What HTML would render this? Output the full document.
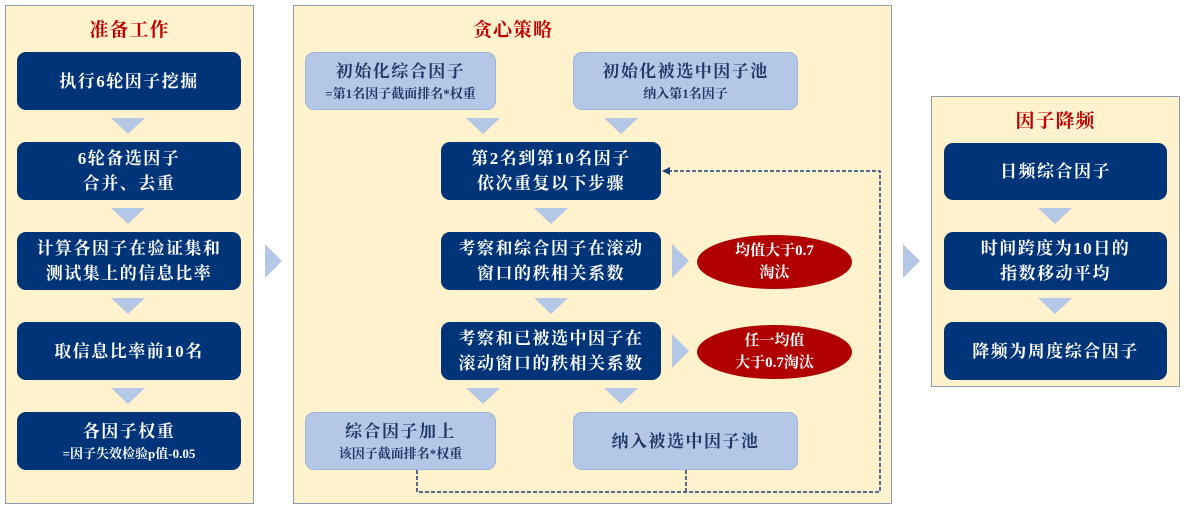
<!DOCTYPE html>
<html><head><meta charset="utf-8"><style>
body{margin:0;width:1185px;height:507px;background:#fff;position:relative;overflow:hidden;font-family:"Liberation Serif","Noto Serif CJK SC",serif;}
.p{position:absolute;background:#fff2cc;border:1.5px solid #8c9bb0;box-sizing:border-box;}
.t{position:absolute;color:#c00000;font-weight:bold;font-size:19px;text-align:center;letter-spacing:1px;}
.b{position:absolute;box-sizing:border-box;border-radius:9px;display:flex;flex-direction:column;align-items:center;justify-content:center;text-align:center;font-weight:bold;font-size:17px;line-height:25px;letter-spacing:1.5px;}
.d{background:#003478;color:#fff;}
.l{background:#b4c7e7;color:#1f3864;border:1px solid #9fb4da;}
.s{font-size:13px;line-height:19px;letter-spacing:0;}
.e{position:absolute;background:#b00000;color:#fff;border-radius:50%;display:flex;flex-direction:column;align-items:center;justify-content:center;text-align:center;font-size:15px;line-height:22px;font-weight:bold;}
.tri{position:absolute;width:0;height:0;border-left:17px solid transparent;border-right:17px solid transparent;border-top:16px solid #b4c7e7;}
.tr{position:absolute;width:0;height:0;border-top:17px solid transparent;border-bottom:17px solid transparent;border-left:17px solid #b4c7e7;}
</style></head><body>
<div class="p" style="left:5px;top:5px;width:249px;height:499px"></div>
<div class="p" style="left:293px;top:5px;width:599px;height:499px"></div>
<div class="p" style="left:931px;top:96px;width:249px;height:291px"></div>
<div class="t" style="left:5px;top:15px;width:249px">准备工作</div>
<div class="t" style="left:293px;top:15px;width:440px">贪心策略</div>
<div class="t" style="left:931px;top:106px;width:249px">因子降频</div>

<div class="b d" style="left:17px;top:52px;width:224px;height:58px">执行6轮因子挖掘</div>
<div class="b d" style="left:17px;top:142px;width:224px;height:58px">6轮备选因子<br>合并、去重</div>
<div class="b d" style="left:17px;top:232px;width:224px;height:58px">计算各因子在验证集和<br>测试集上的信息比率</div>
<div class="b d" style="left:17px;top:322px;width:224px;height:58px">取信息比率前10名</div>
<div class="b d" style="left:17px;top:412px;width:224px;height:58px"><div>各因子权重</div><div class="s">=因子失效检验p值-0.05</div></div>
<div class="tri" style="left:111px;top:118px"></div>
<div class="tri" style="left:111px;top:208px"></div>
<div class="tri" style="left:111px;top:298px"></div>
<div class="tri" style="left:111px;top:388px"></div>
<div class="tr" style="left:265px;top:244px"></div>

<div class="b l" style="left:305px;top:52px;width:191px;height:58px"><div>初始化综合因子</div><div class="s">=第1名因子截面排名*权重</div></div>
<div class="b l" style="left:573px;top:52px;width:225px;height:58px"><div>初始化被选中因子池</div><div class="s">纳入第1名因子</div></div>
<div class="tri" style="left:466px;top:118px"></div>
<div class="tri" style="left:604px;top:118px"></div>
<div class="b d" style="left:441px;top:142px;width:220px;height:58px">第2名到第10名因子<br>依次重复以下步骤</div>
<div class="tri" style="left:534px;top:208px"></div>
<div class="b d" style="left:441px;top:232px;width:220px;height:58px">考察和综合因子在滚动<br>窗口的秩相关系数</div>
<div class="tri" style="left:534px;top:298px"></div>
<div class="b d" style="left:441px;top:322px;width:220px;height:58px">考察和已被选中因子在<br>滚动窗口的秩相关系数</div>
<div class="tr" style="left:672px;top:244px"></div>
<div class="tr" style="left:672px;top:334px"></div>
<div class="e" style="left:697px;top:235px;width:155px;height:54px"><div>均值大于0.7</div><div>淘汰</div></div>
<div class="e" style="left:697px;top:325px;width:155px;height:54px"><div>任一均值</div><div>大于0.7淘汰</div></div>
<div class="tri" style="left:466px;top:388px"></div>
<div class="tri" style="left:604px;top:388px"></div>
<div class="b l" style="left:305px;top:412px;width:191px;height:58px"><div>综合因子加上</div><div class="s">该因子截面排名*权重</div></div>
<div class="b l" style="left:573px;top:412px;width:225px;height:58px">纳入被选中因子池</div>
<svg style="position:absolute;left:0;top:0" width="1185" height="507">
<polyline points="417,470 417,492 880,492 880,171 668,171" fill="none" stroke="#1f3c78" stroke-width="1.5" stroke-dasharray="4,2"/>
<line x1="686" y1="470" x2="686" y2="492" stroke="#1f3c78" stroke-width="1.5" stroke-dasharray="4,2"/>
<polygon points="662,171 670,167 670,175" fill="#1f3c78"/>
</svg>
<div class="tr" style="left:903px;top:244px"></div>

<div class="b d" style="left:944px;top:143px;width:223px;height:57px">日频综合因子</div>
<div class="b d" style="left:944px;top:232px;width:223px;height:58px">时间跨度为10日的<br>指数移动平均</div>
<div class="b d" style="left:944px;top:322px;width:223px;height:58px">降频为周度综合因子</div>
<div class="tri" style="left:1038px;top:208px"></div>
<div class="tri" style="left:1038px;top:298px"></div>
</body></html>
